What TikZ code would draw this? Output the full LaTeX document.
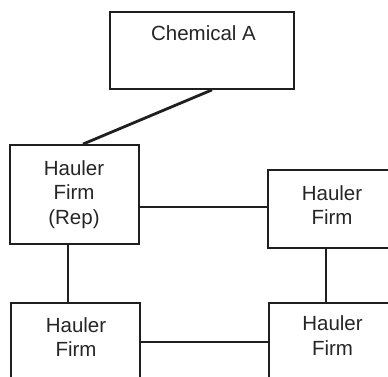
\documentclass[tikz,border=0pt]{standalone}
\usepackage{fontspec}
\setmainfont{Liberation Sans}
\begin{document}
\begin{tikzpicture}[x=1pt,y=-1pt,
  box/.style={draw=black!88,line width=1.8pt,rectangle,inner sep=0pt,fill=none},
  lbl/.style={anchor=base,align=center,inner sep=0pt,text=black!85,
    font=\fontsize{20.5}{24.5}\selectfont},
  link/.style={draw=black!88,line width=1.6pt}]
\useasboundingbox (0,0) rectangle (388,377);
\clip (0,0) rectangle (388,377);
\fill[white] (0,0) rectangle (388,377);

% boxes
\node[box,minimum width=184pt,minimum height=77pt] (chem) at (202,50.5) {};
\node[box,minimum width=129pt,minimum height=99pt] (rep) at (74.5,194.5) {};
\node[box,minimum width=128pt,minimum height=78pt] (hr) at (332,209) {};
\node[box,minimum width=129pt,minimum height=99pt] (bl) at (75.5,352.5) {};
\node[box,minimum width=128pt,minimum height=99pt] (br) at (333,352.5) {};

% labels (base anchor sits on the last line)
\node[lbl] (chemtxt) at (203.5,41) {Chemical A};
\node[lbl] (reptxt) at (74,224) {Hauler\\Firm\\(Rep)};
\node[lbl] (hrtxt) at (332,224.5) {Hauler\\Firm};
\node[lbl] (bltxt) at (76,356.5) {Hauler\\Firm};
\node[lbl] (brtxt) at (332.5,355) {Hauler\\Firm};

% connectors
\draw[link,line width=2.8pt] ([xshift=10pt]chem.south) -- ([xshift=8.5pt]rep.north);
\draw[link] ([yshift=-12.5pt]rep.east) -- ([yshift=-12.5pt]rep.east -| hr.west);
\draw[link] ([xshift=-6.5pt]rep.south) -- ([xshift=-6.5pt]rep.south |- bl.north);
\draw[link] ([xshift=-6pt]hr.south) -- ([xshift=-6pt]hr.south |- br.north);
\draw[link] ([yshift=10.5pt]bl.east) -- ([yshift=10.5pt]bl.east -| br.west);
\end{tikzpicture}
\end{document}
